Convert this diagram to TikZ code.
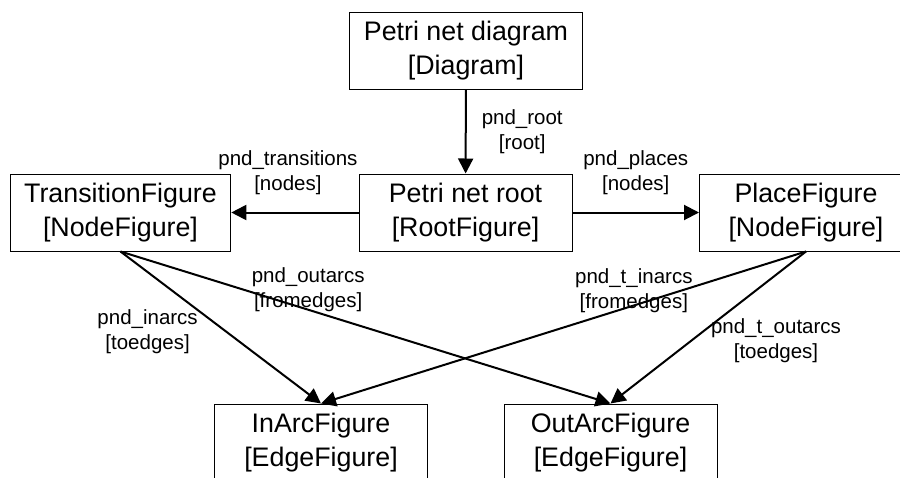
\documentclass[tikz,border=0pt]{standalone}
\usepackage{fontspec}
\setmainfont{Liberation Sans}
\usetikzlibrary{arrows.meta}

\begin{document}
\begin{tikzpicture}[
    x=1pt, y=-1pt,
    >={Triangle[length=15pt, width=15pt]},
    figbox/.style={draw, line width=1pt, minimum width=213pt, minimum height=77pt,
      inner xsep=14pt, align=center, font=\fontsize{26.8}{34}\selectfont},
    link/.style={->, line width=2pt},
    lbl/.style={align=center, inner sep=1pt, font=\fontsize{20.5}{25}\selectfont},
  ]

  % Frame (the picture is cut at the right and bottom)
  \clip (0,0) rectangle (900,477);

  % === Figures ===
  \node[figbox] (diag) at (466,50.5) {Petri net diagram\\{}[Diagram]};
  \node[figbox] (root) at (465.5,212.5) {Petri net root\\{}[RootFigure]};
  \node[figbox] (trans) at (120.5,212.5) {TransitionFigure\\{}[NodeFigure]};
  \node[figbox] (place) at (806,212.5) {PlaceFigure\\{}[NodeFigure]};
  \node[figbox] (inarc) at (321,442.5) {InArcFigure\\{}[EdgeFigure]};
  \node[figbox] (outarc) at (610.5,442.5) {OutArcFigure\\{}[EdgeFigure]};

  % === Containment ===
  \draw[link] (diag) -- (root)
    node[lbl, midway, anchor=west, xshift=14pt] (lroot) {pnd\_root\\{}[root]};
  \draw[link] (root) -- (trans)
    node[lbl, midway, anchor=south, yshift=16pt, xshift=-7pt] (ltrans) {pnd\_transitions\\{}[nodes]};
  \draw[link] (root) -- (place)
    node[lbl, midway, anchor=south, yshift=16pt] (lplace) {pnd\_places\\{}[nodes]};

  % === Arcs ===
  \draw[link] (trans.south) -- (inarc.north)
    node[lbl, pos=0.53, anchor=east, xshift=-27pt] (linarcs) {pnd\_inarcs\\{}[toedges]};
  \draw[link] (trans.south) -- (outarc.north)
    node[lbl, pos=0.383, yshift=20pt] (loutarcs) {pnd\_outarcs\\{}[fromedges]};
  \draw[link] (place.south) -- (inarc.north)
    node[lbl, pos=0.355, yshift=15pt] (ltinarcs) {pnd\_t\_inarcs\\{}[fromedges]};
  \draw[link] (place.south) -- (outarc.north)
    node[lbl, pos=0.588, anchor=west, xshift=18pt] (ltoutarcs) {pnd\_t\_outarcs\\{}[toedges]};

\end{tikzpicture}
\end{document}
